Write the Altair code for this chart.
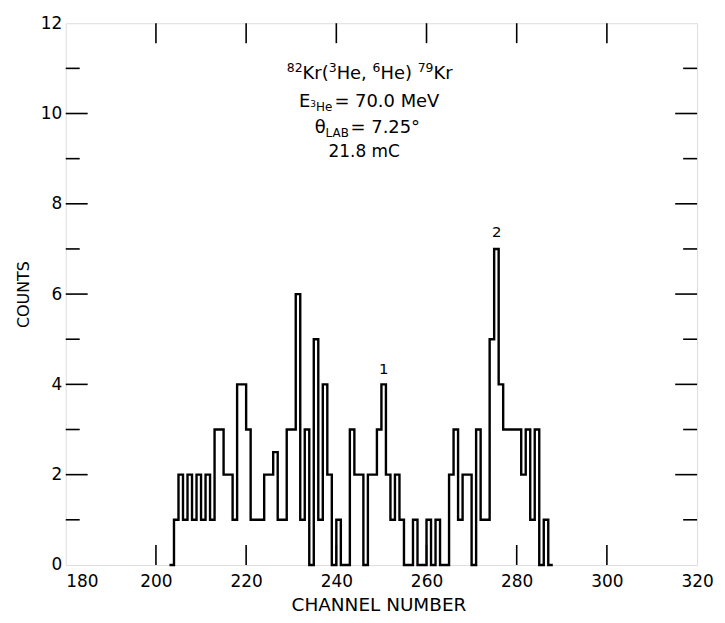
import altair as alt
import pandas as pd

# ---- histogram data (counts per channel) ----
channels = list(range(203, 289))
counts = [
    0, 1, 2, 1, 2, 1, 2, 1, 2, 1,      # 203-212
    3, 3, 2, 2, 1, 4, 4, 3, 1, 1,      # 213-222
    1, 2, 2, 2.5, 1, 1, 3, 3, 6, 1,    # 223-232
    3, 0, 5, 1, 4, 2, 0, 1, 0, 0,      # 233-242
    3, 2, 2, 0, 2, 2, 3, 4, 2, 1,      # 243-252
    2, 1, 0, 0, 1, 0, 0, 1, 0, 1,      # 253-262
    0, 0, 2, 3, 1, 2, 2, 0, 3, 1,      # 263-272
    1, 5, 7, 4, 3, 3, 3, 3, 2, 3,      # 273-282
    1, 3, 0, 1, 0, 0,                  # 283-288
]
assert len(channels) == len(counts)

x_ticks = [180, 200, 220, 240, 260, 280, 300, 320]
x_inner_ticks = [200, 220, 240, 260, 280, 300]
y_ticks = [0, 2, 4, 6, 8, 10, 12]
y_major_inner = [2, 4, 6, 8, 10]
y_minor_inner = [1, 3, 5, 7, 9, 11]

# annotation block: one anchor (centre, baseline) per line, in data units
line_x = [247.4, 247.3, 246.9, 246.2]
line_y = [10.76, 10.14, 9.57, 9.04]
line_pieces = [
    [("82", "sup"), ("Kr(", "main"), ("3", "sup"), ("He, ", "main"),
     ("6", "sup"), ("He) ", "main"), ("79", "sup"), ("Kr", "main")],
    [("E", "main"), ("3", "subsup"), ("He", "sub"), ("= 70.0 MeV", "main")],
    [("\u03b8", "main"), ("LAB", "sub"), ("= 7.25\u00b0", "main")],
    [("21.8 mC", "main4")],
]

peak_text = ["1", "2"]
peak_x = [250.5, 275.6]
peak_y = [4.33, 7.37]

W, H = 634, 544
FONT = "DejaVu Sans"

# piece styles: font size, vertical offset (px), trailing gap (px)
STYLES = {
    "main": (18, 0, 0),
    "main4": (17, 0, 0),
    "sup": (12.5, -7, 0),
    "sub": (12, 4, 2),
    "subsup": (9, 0, 0),
}
# approximate DejaVu Sans advance widths (em)
ADV = {"K": .656, "r": .411, "(": .390, ")": .390, "H": .752, "e": .615,
       ",": .318, " ": .318, "E": .632, "=": .838, ".": .318, "M": .863,
       "V": .684, "\u03b8": .602, "L": .557, "A": .684, "B": .686,
       "\u00b0": .5, "m": .974, "C": .698}


def text_width(s, size):
    return sum(ADV.get(ch, .636) for ch in s) * size


hist = pd.DataFrame({"channel": channels, "counts": counts})

xs = alt.Scale(domain=[180, 320], nice=False, zero=False)
ys = alt.Scale(domain=[0, 12], nice=False, zero=True)

line = alt.Chart(hist).mark_line(
    interpolate="step-after", color="black", strokeWidth=2.4
).encode(
    x=alt.X("channel:Q", scale=xs,
            axis=alt.Axis(values=x_ticks, title="CHANNEL NUMBER", ticks=False,
                          domain=False, grid=False, labelFont=FONT,
                          labelFontSize=17, labelColor="black", labelPadding=9,
                          labelAlign={"expr": "datum.value == 180 ? 'left' : 'center'"},
                          titleFont=FONT, titleFontSize=18.5, titleFontWeight="normal",
                          titleColor="black", titleX=314, titleY=40,
                          titleBaseline="middle")),
    y=alt.Y("counts:Q", scale=ys,
            axis=alt.Axis(values=y_ticks, title="COUNTS", ticks=False,
                          domain=False, grid=False, labelFont=FONT,
                          labelFontSize=17, labelColor="black", labelPadding=4,
                          labelExpr="datum.value >= 10 ? datum.label + '\u00a0\u00a0\u00a0' : datum.label",
                          titleFont=FONT, titleFontSize=16, titleFontWeight="normal",
                          titleColor="black", titleX=-42, titleY=272,
                          titleBaseline="middle")),
)

ydf_major = pd.DataFrame({"v": y_major_inner})
ydf_minor = pd.DataFrame({"v": y_minor_inner})
xdf = pd.DataFrame({"v": x_inner_ticks})


def yrule(df, x0, x1):
    return alt.Chart(df).mark_rule(color="black", strokeWidth=1.6).encode(
        y=alt.Y("v:Q", scale=ys), x=alt.value(x0), x2=alt.value(x1))


def xrule(df, y0, y1):
    return alt.Chart(df).mark_rule(color="black", strokeWidth=1.6).encode(
        x=alt.X("v:Q", scale=xs), y=alt.value(y0), y2=alt.value(y1))


ticks = [
    yrule(ydf_major, 0, 22), yrule(ydf_minor, 0, 14),
    yrule(ydf_major, W, W - 22), yrule(ydf_minor, W, W - 14),
    xrule(xdf, H, H - 20), xrule(xdf, 0, 20),
]

# build annotation text pieces (each piece a text mark positioned at its line's anchor)
text_layers = []
for lx, ly, pieces in zip(line_x, line_y, line_pieces):
    widths = []
    for t, st in pieces:
        size, dy, gap = STYLES[st]
        widths.append(text_width(t.rstrip(), size) + gap + (text_width(" ", size) if t.endswith(" ") else 0))
    total = sum(widths)
    offset = -total / 2
    for (t, st), w in zip(pieces, widths):
        size, dy, gap = STYLES[st]
        df = pd.DataFrame({"t": [t.strip()], "x": [lx], "y": [ly]})
        text_layers.append(
            alt.Chart(df).mark_text(font=FONT, fontSize=size, color="black",
                                    align="left", baseline="alphabetic",
                                    dx=offset, dy=dy).encode(
                x=alt.X("x:Q", scale=xs), y=alt.Y("y:Q", scale=ys), text="t:N"))
        offset += w

pdf = pd.DataFrame({"t": peak_text, "x": peak_x, "y": peak_y})
t_peak = alt.Chart(pdf).mark_text(font=FONT, fontSize=15, color="black",
                                   align="center", baseline="middle").encode(
    x=alt.X("x:Q", scale=xs), y=alt.Y("y:Q", scale=ys), text="t:N")

chart = alt.layer(line, *ticks, *text_layers, t_peak).properties(
    width=W, height=H,
    autosize=alt.AutoSizeParams(type="none"),
    padding={"left": 58, "top": 14, "right": 20, "bottom": 52},
).configure_view(stroke="black", strokeWidth=2).configure(background="white")

chart.save("out.html", embed_options={"renderer": "svg", "actions": False})
